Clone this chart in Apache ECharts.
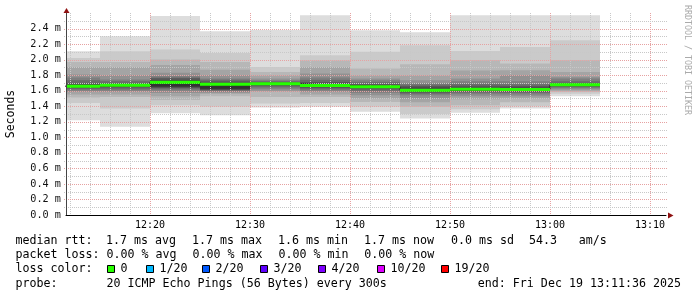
<!DOCTYPE html>
<html><head><meta charset="utf-8">
<script src="https://cdn.jsdelivr.net/npm/echarts@6/dist/echarts.min.js"></script>
<style>html,body{margin:0;padding:0;background:#fff}#c{width:697px;height:297px}</style>
</head><body><div id="c"></div>
<script>
// ---------------- data ----------------
const viewStart = '12:11:36';
const viewEnd = '13:11:36';
const segmentMinutes = 5;
const segmentStarts = ['12:10','12:15','12:20','12:25','12:30','12:35','12:40','12:45','12:50','12:55','13:00'];
// 20 sorted ping round-trip times (ms) per 5-minute step (the "smoke")
const pings1  = [1.221,1.443,1.513,1.55,1.585,1.60,1.62,1.63,1.645,1.655,1.662,1.68,1.70,1.735,1.77,1.81,1.906,1.97,2.022,2.108];
const pings2  = [1.135,1.371,1.52,1.55,1.585,1.60,1.62,1.64,1.655,1.665,1.675,1.685,1.70,1.72,1.744,1.80,1.906,1.97,2.108,2.30];
const pings3  = [1.31,1.414,1.48,1.53,1.57,1.60,1.62,1.635,1.645,1.655,1.72,1.735,1.76,1.77,1.79,1.83,1.93,2.0,2.13,2.56];
const pings4  = [1.285,1.392,1.53,1.56,1.575,1.59,1.60,1.61,1.615,1.625,1.69,1.70,1.72,1.74,1.757,1.80,1.87,1.97,2.086,2.365];
const pings5  = [1.384,1.436,1.52,1.585,1.60,1.625,1.645,1.66,1.675,1.683,1.693,1.70,1.71,1.72,1.735,1.757,1.80,1.842,1.906,2.38];
const pings6  = [1.392,1.443,1.52,1.55,1.585,1.60,1.62,1.635,1.65,1.66,1.672,1.69,1.713,1.74,1.77,1.821,1.906,1.99,2.057,2.57];
const pings7  = [1.328,1.392,1.456,1.50,1.542,1.575,1.60,1.62,1.635,1.645,1.655,1.665,1.685,1.71,1.735,1.757,1.80,1.885,2.10,2.378];
const pings8  = [1.243,1.30,1.392,1.45,1.50,1.54,1.56,1.575,1.585,1.595,1.62,1.64,1.66,1.68,1.70,1.735,1.80,1.941,2.185,2.352];
const pings9  = [1.315,1.36,1.414,1.49,1.53,1.555,1.575,1.59,1.60,1.61,1.625,1.64,1.665,1.69,1.72,1.757,1.86,1.992,2.112,2.571];
const pings10 = [1.371,1.40,1.45,1.50,1.53,1.55,1.57,1.585,1.60,1.61,1.622,1.64,1.66,1.684,1.72,1.80,1.864,1.95,2.163,2.571];
const pings11 = [1.53,1.56,1.585,1.60,1.615,1.63,1.645,1.655,1.665,1.672,1.678,1.685,1.70,1.72,1.757,1.78,1.842,1.992,2.249,2.571];
const medianRtt = [1.658,1.671,1.71,1.684,1.688,1.667,1.65,1.607,1.617,1.615,1.675];
const lossPerStep = [0,0,0,0,0,0,0,0,0,0,0];

const xTickLabels = ['12:20','12:30','12:40','12:50','13:00','13:10'];
const yTickLabels = ['0.0 m','0.2 m','0.4 m','0.6 m','0.8 m','1.0 m','1.2 m','1.4 m','1.6 m','1.8 m','2.0 m','2.2 m','2.4 m'];
const yMax = 2.6;

const lossLabels = ['0','1/20','2/20','3/20','4/20','10/20','19/20'];
const lossColors = ['#26ff00','#00b8ff','#0059ff','#5e00ff','#7e00ff','#dd00ff','#ff0000'];
const lossThreshold = [0,1,2,3,4,10,19];

const medianStatTexts = ['1.7 ms avg','1.7 ms max','1.6 ms min','1.7 ms now','0.0 ms sd','54.3','am/s'];
const lossStatTexts = ['0.00 % avg','0.00 % max','0.00 % min','0.00 % now'];
const probeText = '20 ICMP Echo Pings (56 Bytes) every 300s';
const endText = 'end: Fri Dec 19 13:11:36 2025';
const watermark = 'RRDTOOL / TOBI OETIKER';

// ---------------- build ----------------
const pingSets = [pings1,pings2,pings3,pings4,pings5,pings6,pings7,pings8,pings9,pings10,pings11];
function toMin(s){const p=s.split(':').map(Number);return p[0]*60+p[1]+(p[2]||0)/60;}
function fmt(v){const h=Math.floor(v/60), m=Math.round(v-h*60);return h+':'+String(m).padStart(2,'0');}
const xMin = toMin(viewStart), xMax = toMin(viewEnd);
const grays = ['#dddddd','#cacaca','#b7b7b7','#a4a4a4','#919191','#7e7e7e','#6b6b6b','#585858','#454545','#323232'];
function lossColor(n){let c=lossColors[0];lossThreshold.forEach((t,i)=>{if(n>=t)c=lossColors[i];});return c;}

const smokeData = segmentStarts.map((s,i)=>[toMin(s), toMin(s)+segmentMinutes].concat(pingSets[i]));
const medianData = segmentStarts.map((s,i)=>[toMin(s), toMin(s)+segmentMinutes, medianRtt[i], lossPerStep[i]]);
const stepData = segmentStarts.map((s,i)=>[toMin(s), medianRtt[i]]);
stepData.push([toMin(segmentStarts[segmentStarts.length-1])+segmentMinutes, medianRtt[medianRtt.length-1]]);

const majorX = xTickLabels.map(toMin);
const vGrid = [];
for (let t = Math.ceil(xMin/2)*2; t <= xMax; t += 2) vGrid.push([t, majorX.includes(t) ? 1 : 0]);
const hGrid = [];
for (let k = 1; k*0.1 < yMax - 1e-9; k++) hGrid.push([+(k*0.1).toFixed(1), k % 2 === 0 ? 1 : 0]);

function clampX(params, api, t0, t1){
  const cs = params.coordSys;
  let x0 = api.coord([t0, 0])[0], x1 = api.coord([t1, 0])[0];
  return [Math.max(x0, cs.x), Math.min(x1, cs.x + cs.width)];
}

const mono = '"DejaVu Sans Mono", monospace';
const legendFont = '11.65px ' + mono;
const rowY = [240.6, 254.9, 269.2, 283.5];
const graphic = [];
function txt(text, x, y, extra){graphic.push(Object.assign({type:'text', x, y, silent:true, style:{text, font:legendFont, fill:'#000', align:'left', verticalAlign:'middle'}}, extra||{}));}
txt('median rtt:', 15.5, rowY[0]);
[106,192,278,364,451,529,578.7].forEach((x,i)=>txt(medianStatTexts[i], x, rowY[0]));
txt('packet loss:', 15.5, rowY[1]);
[106.5,192.5,278.5,364.3].forEach((x,i)=>txt(lossStatTexts[i], x, rowY[1]));
txt('loss color:', 15.5, rowY[2]);
[107,146,202,260,318,377,441].forEach((x,i)=>{
  graphic.push({type:'rect', silent:true, shape:{x:x+0.5, y:265.5, width:7, height:7}, style:{fill:lossColors[i], stroke:'#000', lineWidth:1}});
  txt(lossLabels[i], x+13.5, rowY[2]);
});
txt('probe:', 15.5, rowY[3]);
txt(probeText, 106.5, rowY[3]);
txt(endText, 477.8, rowY[3]);
graphic.push({type:'text', x:687.5, y:5, rotation:-Math.PI/2, silent:true,
  style:{text:watermark, font:'8.3px '+mono, fill:'#aaaaaa', align:'left', verticalAlign:'middle'}});
// axis arrows
graphic.push({type:'polygon', silent:true, z:100, shape:{points:[[63.5,13],[66.5,8],[69.5,13]]}, style:{fill:'#8f1111'}});
graphic.push({type:'polygon', silent:true, z:100, shape:{points:[[668,212.5],[673.5,215.5],[668,218.5]]}, style:{fill:'#8f1111'}});

const chart = echarts.init(document.getElementById('c'), null, {renderer:'canvas'});
chart.setOption({
  animation:false,
  backgroundColor:'#ffffff',
  textStyle:{fontFamily:mono},
  grid:{left:66, right:31, top:13, bottom:82, containLabel:false, outerBoundsMode:'none'},
  xAxis:{type:'value', min:xMin, max:xMax, z:5,
    axisLine:{show:true, onZero:false, lineStyle:{color:'#000', width:1}},
    axisTick:{show:false}, splitLine:{show:false},
    axisLabel:{customValues:majorX, formatter:(v)=>fmt(v), fontFamily:mono, fontSize:10, color:'#000', margin:5}},
  yAxis:{type:'value', min:0, max:yMax, z:5,
    axisLine:{show:true, lineStyle:{color:'#444', width:1}},
    axisTick:{show:false}, splitLine:{show:false},
    axisLabel:{customValues:yTickLabels.map(s=>parseFloat(s)), formatter:(v)=>yTickLabels[Math.round(v/0.2)], fontFamily:mono, fontSize:10.2, color:'#111', margin:5},
    name:'Seconds', nameLocation:'middle', nameRotate:90, nameGap:49,
    nameTextStyle:{fontFamily:mono, fontSize:11.5, color:'#000'}},
  graphic,
  series:[
    {type:'custom', name:'smoke', z:1, silent:true, data:smokeData,
      encode:{x:[0,1], y:[2]},
      renderItem:(params, api)=>{
        const t0=api.value(0), t1=api.value(1);
        const [x0,x1]=clampX(params, api, t0, t1);
        if (x1<=x0) return null;
        const children=[];
        for(let k=0;k<10;k++){
          const lo=api.value(2+k), hi=api.value(21-k);
          const yT=api.coord([t0,hi])[1], yB=api.coord([t0,lo])[1];
          children.push({type:'rect', shape:{x:x0, y:yT, width:x1-x0, height:yB-yT}, style:{fill:grays[k]}});
        }
        return {type:'group', children};
      }},
    {type:'custom', name:'vgrid', z:2, silent:true, data:vGrid, encode:{x:[0]},
      renderItem:(params, api)=>{
        const cs=params.coordSys;
        const x=Math.round(api.coord([api.value(0),0])[0])+0.5;
        const major=api.value(1)===1;
        return {type:'line', shape:{x1:x, y1:cs.y, x2:x, y2:cs.y+cs.height},
          style:{stroke: major?'#e6a2a2':'#c8c8c8', lineWidth:1, lineDash:[1,1]}};
      }},
    {type:'custom', name:'hgrid', z:2, silent:true, data:hGrid, encode:{y:[0]},
      renderItem:(params, api)=>{
        const cs=params.coordSys;
        const y=Math.round(api.coord([xMin, api.value(0)])[1])+0.5;
        const major=api.value(1)===1;
        return {type:'line', shape:{x1:cs.x-2, y1:y, x2:cs.x+cs.width+2, y2:y},
          style:{stroke: major?'#e6a2a2':'#c8c8c8', lineWidth:1, lineDash:[1,1]}};
      }},
    {type:'line', name:'median-step', z:3, silent:true, step:'end', data:stepData, showSymbol:false, symbol:'none',
      lineStyle:{color:'#202020', width:1}, clip:true},
    {type:'custom', name:'median', z:4, silent:true, data:medianData, encode:{x:[0,1], y:[2]},
      renderItem:(params, api)=>{
        const t0=api.value(0), t1=api.value(1);
        const [x0,x1]=clampX(params, api, t0, t1);
        if (x1<=x0) return null;
        const y=api.coord([t0, api.value(2)])[1];
        return {type:'rect', shape:{x:x0, y:y-1.5, width:x1-x0, height:3}, style:{fill:lossColor(api.value(3))}};
      }}
  ]
});
</script></body></html>
